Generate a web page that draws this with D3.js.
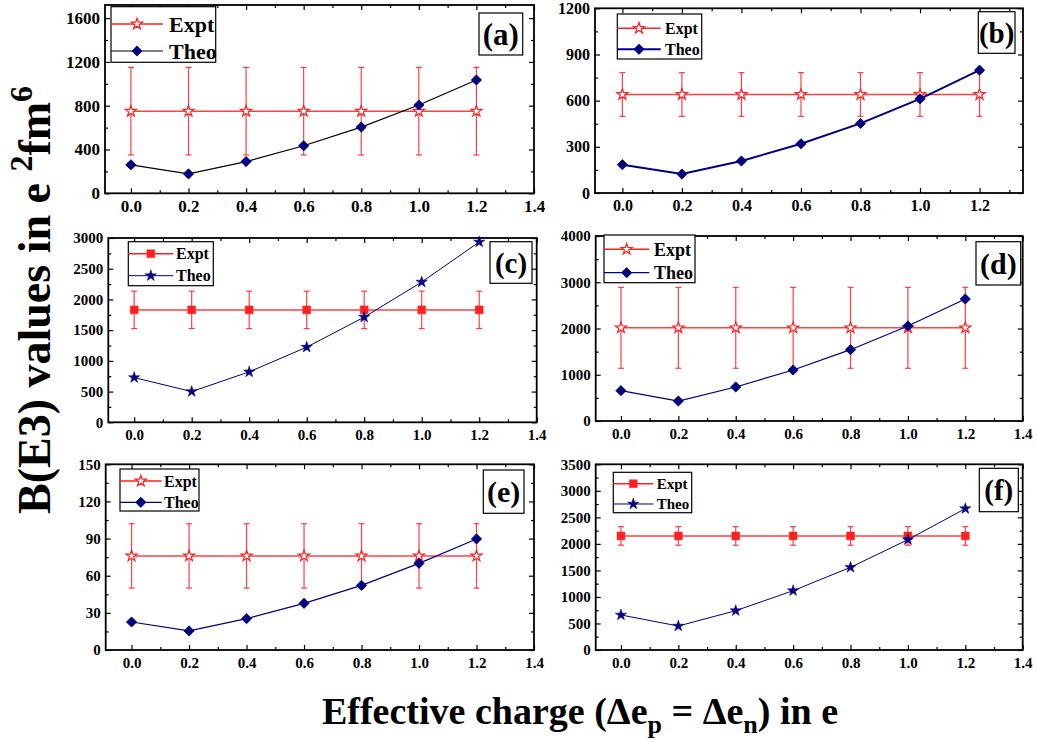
<!DOCTYPE html>
<html>
<head>
<meta charset="utf-8">
<script src="https://cdn.jsdelivr.net/npm/d3@7"></script>
<style>
  body { margin: 0; background: #fff; }
  text { font-family: "Liberation Serif", "Times New Roman", serif; font-weight: bold; }
</style>
</head>
<body>
<script>
var W = 1037, H = 742;

// x values (effective charge)
var xVals = [0.0, 0.2, 0.4, 0.6, 0.8, 1.0, 1.2];

// panel (a)
var exptA = [750, 750, 750, 750, 750, 750, 750];
var errA = [400, 400, 400, 400, 400, 400, 400];
var theoA = [260, 177, 290, 434, 605, 806, 1035];
// panel (b)
var exptB = [640, 640, 640, 640, 640, 640, 640];
var errB = [142, 142, 142, 142, 142, 142, 142];
var theoB = [184, 123, 208, 320, 452, 612, 798];
// panel (c)
var exptC = [1830, 1830, 1830, 1830, 1830, 1830, 1830];
var errC = [305, 305, 305, 305, 305, 305, 305];
var theoC = [728, 500, 821, 1223, 1712, 2283, 2935];
// panel (d)
var exptD = [2015, 2015, 2015, 2015, 2015, 2015, 2015];
var errD = [875, 875, 875, 875, 875, 875, 875];
var theoD = [656, 432, 735, 1103, 1542, 2054, 2638];
// panel (e)
var exptE = [76, 76, 76, 76, 76, 76, 76];
var errE = [26, 26, 26, 26, 26, 26, 26];
var theoE = [22.6, 15.4, 25.3, 37.7, 52.2, 70, 89.7];
// panel (f)
var exptF = [2150, 2150, 2150, 2150, 2150, 2150, 2150];
var errF = [175, 175, 175, 175, 175, 175, 175];
var theoF = [660, 452, 741, 1118, 1558, 2080, 2664];

// tick labels
var xTicks = [0.0, 0.2, 0.4, 0.6, 0.8, 1.0, 1.2, 1.4];
var yTicksA = [0, 400, 800, 1200, 1600];
var yTicksB = [0, 300, 600, 900, 1200];
var yTicksC = [0, 500, 1000, 1500, 2000, 2500, 3000];
var yTicksD = [0, 1000, 2000, 3000, 4000];
var yTicksE = [0, 30, 60, 90, 120, 150];
var yTicksF = [0, 500, 1000, 1500, 2000, 2500, 3000, 3500];

var red = "#ff2020";
var navy = "#00007f";

// panel layout
var panels = [
  { tag: "(a)", expt: exptA, err: errA, theo: theoA, yTicks: yTicksA, yMax: 1720, yMinor: 200,
    box: [105, 5, 534, 193.3], xDom: [-0.09, 1.4], tfs: 17,
    exptMark: "openStar", theoMark: "diamond", theoLine: "#000", theoW: 1.2,
    legend: { x: 111, y: 6.7, w: 104.7, h: 55.6, r1: 17.3, r2: 44.3, line: 52, text: 58, fs: 22 },
    label: { x: 479, y: 13, w: 43.7, h: 42, fs: 31 } },
  { tag: "(b)", expt: exptB, err: errB, theo: theoB, yTicks: yTicksB, yMax: 1200, yMinor: 150,
    box: [595, 8.3, 1023, 193], xDom: [-0.092, 1.346], tfs: 16,
    exptMark: "openStar", theoMark: "diamond", theoLine: navy, theoW: 2,
    legend: { x: 617.3, y: 14, w: 84.4, h: 45, r1: 14.3, r2: 35.3, line: 43.4, text: 47.7, fs: 16 },
    label: { x: 978.3, y: 11.7, w: 36.7, h: 41.6, fs: 29 } },
  { tag: "(c)", expt: exptC, err: errC, theo: theoC, yTicks: yTicksC, yMax: 3000, yMinor: 250,
    box: [108.3, 238, 536.7, 422.3], xDom: [-0.09, 1.4], tfs: 15,
    exptMark: "square", theoMark: "star", theoLine: navy, theoW: 1,
    legend: { x: 128.3, y: 241.7, w: 85, h: 44, r1: 12, r2: 34, line: 45, text: 47.7, fs: 16 },
    label: { x: 490, y: 241.7, w: 42, h: 41.6, fs: 29 } },
  { tag: "(d)", expt: exptD, err: errD, theo: theoD, yTicks: yTicksD, yMax: 4000, yMinor: 500,
    box: [595.7, 236, 1022.7, 421], xDom: [-0.088, 1.4], tfs: 15,
    exptMark: "openStar", theoMark: "diamond", theoLine: navy, theoW: 1.2,
    legend: { x: 604, y: 235, w: 91, h: 47.7, r1: 14.3, r2: 37.7, line: 45.3, text: 50, fs: 18 },
    label: { x: 976, y: 241.7, w: 44.7, h: 43.3, fs: 30 } },
  { tag: "(e)", expt: exptE, err: errE, theo: theoE, yTicks: yTicksE, yMax: 150, yMinor: 15,
    box: [105.7, 464.3, 534, 650], xDom: [-0.09, 1.4], tfs: 15,
    exptMark: "openStar", theoMark: "diamond", theoLine: navy, theoW: 1.2,
    legend: { x: 120, y: 469, w: 79, h: 42, r1: 12, r2: 33.3, line: 41.7, text: 44, fs: 16 },
    label: { x: 483.3, y: 470, w: 40.7, h: 43.3, fs: 30 } },
  { tag: "(f)", expt: exptF, err: errF, theo: theoF, yTicks: yTicksF, yMax: 3500, yMinor: 250,
    box: [595.7, 464.3, 1022.7, 650], xDom: [-0.088, 1.4], tfs: 15,
    exptMark: "square", theoMark: "star", theoLine: navy, theoW: 1,
    legend: { x: 613.3, y: 472.3, w: 78.4, h: 40.4, r1: 11.4, r2: 31.7, line: 40, text: 43.4, fs: 15 },
    label: { x: 979.3, y: 468.3, w: 39, h: 43.4, fs: 29 } }
];

var svg = d3.select("body").append("svg")
    .attr("width", W)
    .attr("height", H);

// draw one marker into a selection
function drawMarker(sel, kind) {
  if (kind === "openStar") {
    sel.append("path")
      .attr("d", d3.symbol().type(d3.symbolStar).size(38)())
      .attr("fill", "#fff").attr("stroke", red).attr("stroke-width", 1.2);
  } else if (kind === "square") {
    sel.append("path")
      .attr("d", d3.symbol().type(d3.symbolSquare).size(62)())
      .attr("fill", red).attr("stroke", red).attr("stroke-width", 0.5);
  } else if (kind === "diamond") {
    sel.append("path")
      .attr("d", d3.symbol().type(d3.symbolSquare).size(52)())
      .attr("transform", "rotate(45)")
      .attr("fill", navy).attr("stroke", navy).attr("stroke-width", 0.8);
  } else if (kind === "star") {
    sel.append("path")
      .attr("d", d3.symbol().type(d3.symbolStar).size(40)())
      .attr("fill", navy).attr("stroke", navy).attr("stroke-width", 0.5);
  }
}

panels.forEach(function(p) {
  var x0 = p.box[0], y0 = p.box[1], x1 = p.box[2], y1 = p.box[3];
  var xScale = d3.scaleLinear().domain(p.xDom).range([x0, x1]);
  var yScale = d3.scaleLinear().domain([0, p.yMax]).range([y1, y0]);
  var g = svg.append("g");

  var xt = xTicks.filter(function(t) { return t <= p.xDom[1] + 1e-6; });
  var xMinor = d3.range(0.1, p.xDom[1], 0.2);
  var yMinor = d3.range(p.yMinor, p.yMax, p.yMinor * 2);

  // major + minor ticks, pointing inward on all four sides
  g.append("g").attr("transform", "translate(0," + y1 + ")")
    .call(d3.axisBottom(xScale).tickValues(xt).tickSize(-5).tickPadding(7)
      .tickFormat(d3.format(".1f")))
    .call(function(a) { a.selectAll("text").attr("font-size", p.tfs); });
  g.append("g").attr("transform", "translate(0," + y1 + ")")
    .call(d3.axisBottom(xScale).tickValues(xMinor).tickSize(-3).tickFormat(""));
  g.append("g").attr("transform", "translate(0," + y0 + ")")
    .call(d3.axisTop(xScale).tickValues(xt).tickSize(-5).tickFormat(""));
  g.append("g").attr("transform", "translate(0," + y0 + ")")
    .call(d3.axisTop(xScale).tickValues(xMinor).tickSize(-3).tickFormat(""));

  g.append("g").attr("transform", "translate(" + x0 + ",0)")
    .call(d3.axisLeft(yScale).tickValues(p.yTicks).tickSize(-5).tickPadding(5)
      .tickFormat(d3.format("d")))
    .call(function(a) { a.selectAll("text").attr("font-size", p.tfs); });
  g.append("g").attr("transform", "translate(" + x0 + ",0)")
    .call(d3.axisLeft(yScale).tickValues(yMinor).tickSize(-3).tickFormat(""));
  g.append("g").attr("transform", "translate(" + x1 + ",0)")
    .call(d3.axisRight(yScale).tickValues(p.yTicks).tickSize(-5).tickFormat(""));
  g.append("g").attr("transform", "translate(" + x1 + ",0)")
    .call(d3.axisRight(yScale).tickValues(yMinor).tickSize(-3).tickFormat(""));

  g.selectAll(".domain").remove();
  g.selectAll(".tick line").attr("stroke", "#000").attr("stroke-width", 1.2);
  g.selectAll(".tick text").attr("fill", "#000");

  // frame
  g.append("rect")
    .attr("x", x0).attr("y", y0)
    .attr("width", x1 - x0).attr("height", y1 - y0)
    .attr("fill", "none").attr("stroke", "#000").attr("stroke-width", 1.8);

  // error bars
  var eb = g.append("g").attr("stroke", red).attr("stroke-width", 1.2).attr("stroke-opacity", 0.85);
  xVals.forEach(function(xv, i) {
    var cx = xScale(xv);
    var yHi = yScale(p.expt[i] + p.err[i]), yLo = yScale(p.expt[i] - p.err[i]);
    eb.append("line").attr("x1", cx).attr("x2", cx).attr("y1", yHi).attr("y2", yLo);
    eb.append("line").attr("x1", cx - 3).attr("x2", cx + 3).attr("y1", yHi).attr("y2", yHi);
    eb.append("line").attr("x1", cx - 3).attr("x2", cx + 3).attr("y1", yLo).attr("y2", yLo);
  });

  var line = d3.line()
    .x(function(d, i) { return xScale(xVals[i]); })
    .y(function(d) { return yScale(d); });

  g.append("path").datum(p.expt)
    .attr("d", line).attr("fill", "none")
    .attr("stroke", red).attr("stroke-width", 1.5).attr("stroke-opacity", 0.85);
  g.append("path").datum(p.theo)
    .attr("d", line).attr("fill", "none")
    .attr("stroke", p.theoLine).attr("stroke-width", p.theoW);

  p.expt.forEach(function(v, i) {
    drawMarker(g.append("g").attr("transform", "translate(" + xScale(xVals[i]) + "," + yScale(v) + ")"), p.exptMark);
  });
  p.theo.forEach(function(v, i) {
    drawMarker(g.append("g").attr("transform", "translate(" + xScale(xVals[i]) + "," + yScale(v) + ")"), p.theoMark);
  });

  // legend
  var L = p.legend;
  var lg = g.append("g").attr("transform", "translate(" + L.x + "," + L.y + ")");
  lg.append("rect").attr("width", L.w).attr("height", L.h)
    .attr("fill", "#fff").attr("stroke", "#000").attr("stroke-width", 1.2);
  [["Expt", L.r1, red, 1.5, p.exptMark], ["Theo", L.r2, p.theoLine, p.theoW, p.theoMark]].forEach(function(r) {
    lg.append("line").attr("x1", 0).attr("x2", L.line).attr("y1", r[1]).attr("y2", r[1])
      .attr("stroke", r[2]).attr("stroke-width", r[3]);
    drawMarker(lg.append("g").attr("transform", "translate(" + (L.line / 2) + "," + r[1] + ")"), r[4]);
    lg.append("text").attr("x", L.text).attr("y", r[1]).attr("dy", "0.35em")
      .attr("font-size", L.fs).text(r[0]);
  });

  // panel tag box
  var T = p.label;
  g.append("rect").attr("x", T.x).attr("y", T.y).attr("width", T.w).attr("height", T.h)
    .attr("fill", "#fff").attr("stroke", "#000").attr("stroke-width", 1.2);
  g.append("text").attr("x", T.x + T.w / 2).attr("y", T.y + T.h / 2).attr("dy", "0.35em")
    .attr("text-anchor", "middle").attr("font-size", T.fs).text(p.tag);
});

// axis titles
var yt = svg.append("text")
  .attr("transform", "translate(50,300) rotate(-90)")
  .attr("text-anchor", "middle")
  .attr("font-size", 46);
yt.append("tspan").text("B(E3) values in e ");
yt.append("tspan").attr("font-size", 32).attr("dy", -18).text("2");
yt.append("tspan").attr("dy", 18).text("fm");
yt.append("tspan").attr("font-size", 32).attr("dy", -18).text("6");

var xt = svg.append("text")
  .attr("x", 580).attr("y", 724)
  .attr("text-anchor", "middle")
  .attr("font-size", 38);
xt.append("tspan").text("Effective charge (\u0394e");
xt.append("tspan").attr("font-size", 26).attr("dy", 9).text("p");
xt.append("tspan").attr("dy", -9).text(" = \u0394e");
xt.append("tspan").attr("font-size", 26).attr("dy", 9).text("n");
xt.append("tspan").attr("dy", -9).text(") in e");
</script>
</body>
</html>
